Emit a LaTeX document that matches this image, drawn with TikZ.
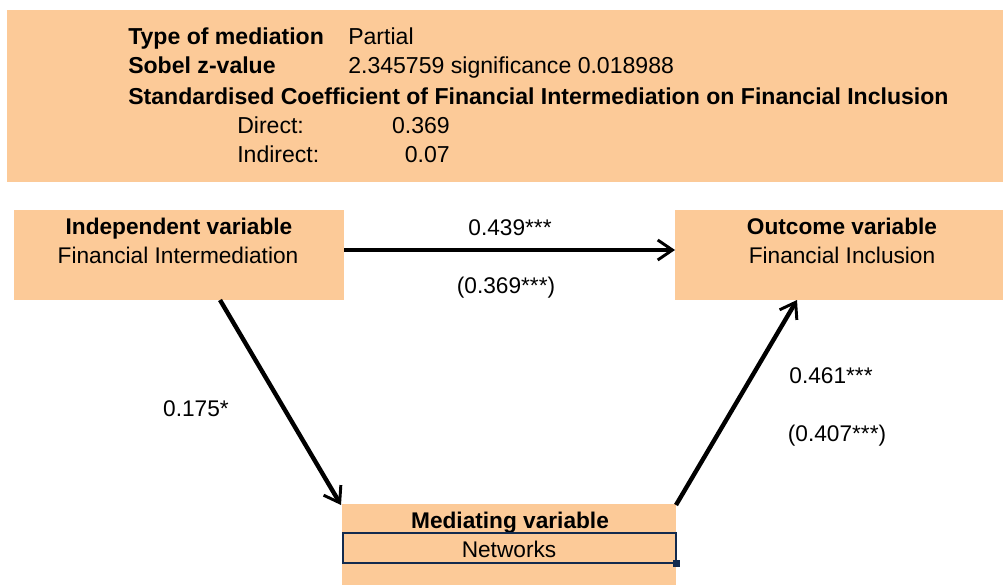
\documentclass[tikz,border=0pt]{standalone}
\usepackage{fontspec}
\setmainfont{Liberation Sans}
\usetikzlibrary{arrows.meta}
\definecolor{tan}{RGB}{252,202,152}
\definecolor{cellnavy}{RGB}{18,42,78}
\begin{document}
\begin{tikzpicture}[x=0.75pt,y=-0.75pt]
	\tikzset{every node/.style={font=\fontsize{17}{20}\selectfont, inner sep=0pt, anchor=base},
		summary/.style={font=\fontsize{17.3}{20}\selectfont, anchor=base west},
		path/.style={line width=3.3pt, -{Straight Barb[length=11pt,width=15pt,line width=2.2pt]}}}
	\useasboundingbox (0,0) rectangle (1003,585);
	% summary box
	\fill[tan] (7,10) rectangle (1003,182);
	\node[summary] (tm) at (128,45) {\textbf{Type of mediation}};
	\node[summary] (tmv) at (348,45) {Partial};
	\node[summary] (sz) at (128,74) {\textbf{Sobel z-value}};
	\node[summary] (szv) at (348,74) {2.345759 significance 0.018988};
	\node[summary] (sc) at (128,104) {\textbf{Standardised Coefficient of Financial Intermediation on Financial Inclusion}};
	\node[summary] (dr) at (237,133) {Direct:};
	\node[summary, anchor=base east] (drv) at (450,133) {0.369};
	\node[summary] (ind) at (237,162) {Indirect:};
	\node[summary, anchor=base east] (indv) at (450,162) {0.07};

	% variable boxes
	\fill[tan] (14,210) rectangle (344,300);
	\node (iv) at (179,234) {\textbf{Independent variable}};
	\node (ivn) at (178,263) {Financial Intermediation};
	\coordinate (ivr) at (344,250);
	\coordinate (ivb) at (220,300);

	\fill[tan] (675,210) rectangle (1003,300);
	\node (ov) at (842,234) {\textbf{Outcome variable}};
	\node (ovn) at (842,263) {Financial Inclusion};
	\coordinate (ovl) at (675,250);
	\coordinate (ovb) at (797,300);

	\fill[tan] (342,504) rectangle (676,585);
	\node (mv) at (510,528) {\textbf{Mediating variable}};
	\draw[cellnavy, line width=2.2pt] (343,533) rectangle (676,563);
	\fill[cellnavy] (673,560) rectangle (680,567);
	\node (mvn) at (509,557) {Networks};
	\coordinate (mvl) at (341,505);
	\coordinate (mvr) at (676,505);

	% paths
	\draw[path] (ivr) -- (ovl);
	\draw[path] (ivb) -- (mvl);
	\draw[path] (mvr) -- (ovb);
	\node (c) at (510,235) {0.439***};
	\node (cp) at (506,293) {(0.369***)};
	\node (a) at (196,416) {0.175*};
	\node (b) at (831,383) {0.461***};
	\node (bp) at (837,441) {(0.407***)};
\end{tikzpicture}
\end{document}
